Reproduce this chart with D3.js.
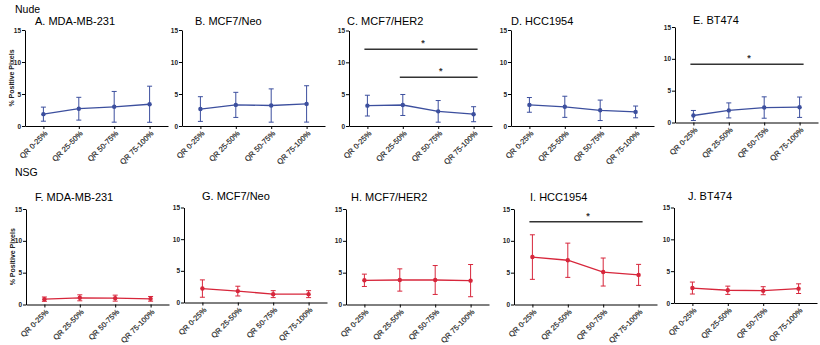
<!DOCTYPE html>
<html>
<head>
<meta charset="utf-8">
<script src="https://cdn.jsdelivr.net/npm/d3@7"></script>
<style>
  body { margin: 0; background: #fff; }
  svg text { font-family: "Liberation Sans", Arial, sans-serif; }
</style>
</head>
<body>
<div class="chart"></div>
<script>
var svgWidth = 820;
var svgHeight = 345;

// x categories shared by every panel
var categories = ["QR 0-25%", "QR 25-50%", "QR 50-75%", "QR 75-100%"];

var nudeTitles = ["A. MDA-MB-231", "B. MCF7/Neo", "C. MCF7/HER2", "D. HCC1954", "E. BT474"];
var nsgTitles = ["F. MDA-MB-231", "G. MCF7/Neo", "H. MCF7/HER2", "I. HCC1954", "J. BT474"];

// mean % positive pixels per quartile, with standard deviation
var nudeMeans = [
    [1.85, 2.7, 3.0, 3.4],
    [2.65, 3.3, 3.2, 3.45],
    [3.2, 3.3, 2.3, 1.85],
    [3.3, 3.0, 2.45, 2.2],
    [1.1, 1.9, 2.35, 2.4]
];
var nudeSD = [
    [1.1, 1.78, 2.4, 2.82],
    [1.93, 1.96, 2.6, 2.84],
    [1.63, 1.65, 1.7, 1.18],
    [1.15, 1.65, 1.6, 0.92],
    [0.79, 1.18, 1.68, 1.6]
];
var nsgMeans = [
    [0.84, 1.05, 1.0, 0.89],
    [2.2, 1.8, 1.32, 1.32],
    [3.8, 3.85, 3.85, 3.75],
    [7.45, 6.95, 5.1, 4.65],
    [2.35, 2.0, 1.93, 2.25]
];
var nsgSD = [
    [0.34, 0.47, 0.47, 0.37],
    [1.37, 0.77, 0.55, 0.55],
    [0.97, 1.75, 2.27, 2.53],
    [3.5, 2.69, 2.2, 1.65],
    [0.94, 0.65, 0.63, 0.76]
];

// significance bars: panel index, first and last category, height
var nudeSig = [
    { panel: 2, from: 0, to: 3, y: 12.05 },
    { panel: 2, from: 1, to: 3, y: 7.65 },
    { panel: 4, from: 0, to: 3, y: 9.15 }
];
var nsgSig = [
    { panel: 3, from: 0, to: 3, y: 13.0 }
];

var yTicks = [0, 5, 10, 15];

// panel placement: y-axis x, top (15) and bottom (0) pixels, title position
var nudeLayout = [
    { x: 25, top: 30, bottom: 126, tx: 35, ty: 25 },
    { x: 182, top: 30, bottom: 126, tx: 195, ty: 25 },
    { x: 349, top: 30.5, bottom: 126, tx: 347, ty: 25 },
    { x: 511, top: 30, bottom: 126, tx: 511, ty: 25 },
    { x: 675, top: 27, bottom: 122.5, tx: 693, ty: 24 }
];
var nsgLayout = [
    { x: 26, top: 209, bottom: 304.5, tx: 35, ty: 201 },
    { x: 184, top: 207.5, bottom: 302.5, tx: 202, ty: 200 },
    { x: 346, top: 209, bottom: 304.5, tx: 351, ty: 201 },
    { x: 514, top: 209, bottom: 304.5, tx: 530, ty: 201 },
    { x: 674, top: 207.5, bottom: 303, tx: 688, ty: 200 }
];

var plotWidth = 143;
var blue = "#3c4f9e";
var red = "#d7263b";

var svg = d3.select(".chart")
    .append("svg")
    .attr("width", svgWidth)
    .attr("height", svgHeight);

svg.append("text")
    .attr("x", 15)
    .attr("y", 13)
    .attr("font-size", "10.5px")
    .text("Nude");

svg.append("text")
    .attr("x", 15)
    .attr("y", 176)
    .attr("font-size", "10.5px")
    .text("NSG");

function drawPanel(lay, title, means, sds, color, sigs, showLabel) {
    var g = svg.append("g");

    var x = d3.scalePoint()
        .domain(categories)
        .range([lay.x, lay.x + plotWidth])
        .padding(0.52);

    var y = d3.scaleLinear()
        .domain([0, 15])
        .range([lay.bottom, lay.top]);

    var leftAxis = d3.axisLeft(y).tickValues(yTicks).tickSize(3).tickSizeOuter(0);
    var bottomAxis = d3.axisBottom(x).tickSize(3).tickSizeOuter(0);

    var yAxis = g.append("g")
        .attr("transform", `translate(${lay.x}, 0)`)
        .call(leftAxis);
    yAxis.selectAll("text")
        .attr("font-size", "6.5px")
        .attr("font-weight", "bold")
        .attr("fill", "#222")
        .attr("x", -4);

    var xAxis = g.append("g")
        .attr("transform", `translate(0, ${lay.bottom})`)
        .call(bottomAxis);
    xAxis.selectAll("text")
        .attr("font-size", "7.6px")
        .attr("fill", "#222")
        .attr("stroke", "#222")
        .attr("stroke-width", 0.15)
        .attr("text-anchor", "end")
        .attr("dx", "0")
        .attr("dy", "0")
        .attr("y", 0)
        .attr("transform", "translate(4, 8) rotate(-45)");

    g.selectAll(".domain, .tick line")
        .attr("stroke", "#000")
        .attr("stroke-width", 1);

    g.append("text")
        .attr("x", lay.tx)
        .attr("y", lay.ty)
        .attr("font-size", "11px")
        .text(title);

    if (showLabel) {
        g.append("text")
            .attr("transform", `translate(${lay.x - 11}, ${(lay.top + lay.bottom) / 2}) rotate(-90)`)
            .attr("text-anchor", "middle")
            .attr("font-size", "7px")
            .attr("font-weight", "bold")
            .attr("fill", "#222")
            .text("% Positive Pixels");
    }

    var points = categories.map((c, i) => ({ cat: c, mean: means[i], sd: sds[i] }));

    var line = d3.line()
        .x(d => x(d.cat))
        .y(d => y(d.mean));

    g.append("path")
        .datum(points)
        .attr("d", line)
        .attr("fill", "none")
        .attr("stroke", color)
        .attr("stroke-width", 1.3);

    var bars = g.selectAll(".err")
        .data(points)
        .enter()
        .append("g")
        .attr("stroke", color)
        .attr("stroke-width", 1);

    bars.append("line")
        .attr("x1", d => x(d.cat))
        .attr("x2", d => x(d.cat))
        .attr("y1", d => y(d.mean + d.sd))
        .attr("y2", d => y(Math.max(0, d.mean - d.sd)));

    bars.append("line")
        .attr("x1", d => x(d.cat) - 2.5)
        .attr("x2", d => x(d.cat) + 2.5)
        .attr("y1", d => y(d.mean + d.sd))
        .attr("y2", d => y(d.mean + d.sd));

    bars.append("line")
        .attr("x1", d => x(d.cat) - 2.5)
        .attr("x2", d => x(d.cat) + 2.5)
        .attr("y1", d => y(Math.max(0, d.mean - d.sd)))
        .attr("y2", d => y(Math.max(0, d.mean - d.sd)));

    g.selectAll(".dot")
        .data(points)
        .enter()
        .append("circle")
        .attr("cx", d => x(d.cat))
        .attr("cy", d => y(d.mean))
        .attr("r", 2.2)
        .attr("fill", color);

    // significance bars with asterisk
    sigs.forEach(function (s) {
        var x1 = x(categories[s.from]) - 3;
        var x2 = x(categories[s.to]) + 4;
        g.append("line")
            .attr("x1", x1)
            .attr("x2", x2)
            .attr("y1", y(s.y))
            .attr("y2", y(s.y))
            .attr("stroke", "#333")
            .attr("stroke-width", 1.5);
        g.append("text")
            .attr("x", (x1 + x2) / 2 + 2)
            .attr("y", y(s.y) - 3)
            .attr("text-anchor", "middle")
            .attr("font-size", "9px")
            .attr("font-weight", "bold")
            .attr("fill", "#333")
            .text("*");
    });
}

nudeLayout.forEach(function (lay, i) {
    drawPanel(lay, nudeTitles[i], nudeMeans[i], nudeSD[i], blue,
        nudeSig.filter(s => s.panel === i), i === 0);
});

nsgLayout.forEach(function (lay, i) {
    drawPanel(lay, nsgTitles[i], nsgMeans[i], nsgSD[i], red,
        nsgSig.filter(s => s.panel === i), i === 0);
});
</script>
</body>
</html>
